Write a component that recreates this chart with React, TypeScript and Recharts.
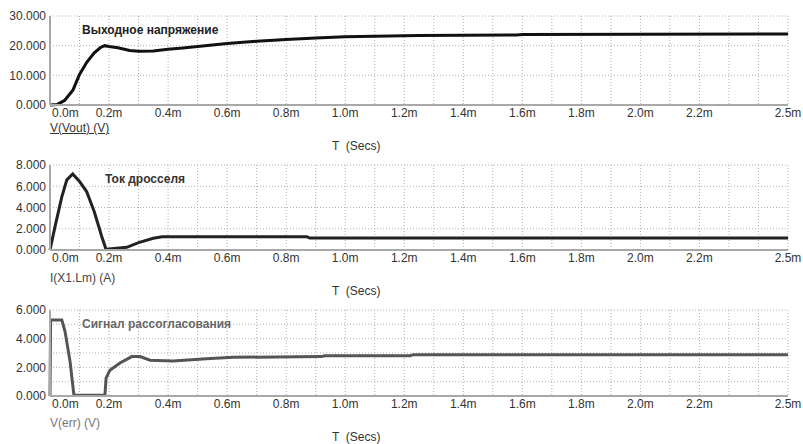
import React from 'react'
import { LineChart, Line, XAxis, YAxis, CartesianGrid } from 'recharts'

// time axis (ms): grid every 0.1m, labels on a subset
const xGridTicks = [0, 0.1, 0.2, 0.3, 0.4, 0.5, 0.6, 0.7, 0.8, 0.9, 1.0, 1.1, 1.2, 1.3, 1.4, 1.5, 1.6, 1.7, 1.8, 1.9, 2.0, 2.1, 2.2, 2.3, 2.4, 2.5]
const xLabelTicks = [0, 0.2, 0.4, 0.6, 0.8, 1.0, 1.2, 1.4, 1.6, 1.8, 2.0, 2.2, 2.5]

// V(Vout)
const voutT = [0, 0.025, 0.05, 0.078, 0.1, 0.125, 0.15, 0.17, 0.185, 0.2, 0.23, 0.27, 0.3, 0.35, 0.4, 0.45, 0.5, 0.6, 0.7, 0.8, 0.9, 1.0, 1.1, 1.25, 1.4, 1.58, 1.6, 2.0, 2.5]
const voutV = [0, 0.2, 1.6, 5.1, 10.3, 14.5, 17.6, 19.3, 20.0, 19.7, 19.3, 18.4, 18.1, 18.2, 18.8, 19.2, 19.7, 20.7, 21.5, 22.1, 22.6, 23.0, 23.2, 23.4, 23.5, 23.6, 23.8, 23.85, 23.9]
const voutGrid = [0, 10, 20, 30]
const voutLabels = [0, 10, 20, 30]

// I(X1.Lm)
const ilmT = [0, 0.017, 0.04, 0.057, 0.077, 0.1, 0.124, 0.15, 0.175, 0.19, 0.2, 0.26, 0.3, 0.35, 0.38, 0.87, 0.88, 2.5]
const ilmV = [0, 2.2, 5.0, 6.6, 7.15, 6.45, 5.5, 3.6, 1.3, 0.05, 0.1, 0.25, 0.7, 1.1, 1.25, 1.25, 1.12, 1.12]
const ilmGrid = [0, 2, 4, 6, 8]
const ilmLabels = [0, 2, 4, 6, 8]

// V(err)
const verrT = [0, 0.002, 0.04, 0.051, 0.068, 0.081, 0.186, 0.19, 0.203, 0.237, 0.277, 0.305, 0.339, 0.417, 0.53, 0.62, 0.92, 0.93, 1.22, 1.23, 2.5]
const verrV = [0, 5.3, 5.3, 4.5, 2.4, 0.05, 0.05, 1.25, 1.8, 2.3, 2.75, 2.75, 2.5, 2.45, 2.6, 2.7, 2.75, 2.8, 2.8, 2.88, 2.88]
const verrGrid = [0, 1, 2, 3, 4, 5, 6]
const verrLabels = [0, 2, 4, 6]

const FONT = '"Liberation Sans", Arial, sans-serif'
const BORDER = { stroke: '#a8a8a8', strokeWidth: 2 }

const XTick = (props: any) => {
  const { x, y, payload } = props
  const show = xLabelTicks.includes(payload.value)
  const first = payload.value === 0
  return (
    <text x={first ? x + 2 : x} y={y + 12} textAnchor={first ? 'start' : 'middle'} fontSize={12} fill="#333">
      {show ? payload.value.toFixed(1) + 'm' : ''}
    </text>
  )
}

type PanelProps = {
  t: number[], v: number[], yGrid: number[], yLabels: number[],
  boxH: number, plotH: number, color: string,
  title: string, titleX: number, titleColor: string,
  signal: string, signalTop: number, signalColor: string, underline?: boolean,
}

function Panel(p: PanelProps){
  const data = p.t.map((t, i) => ({ t, v: p.v[i] }))
  const yMax = p.yGrid[p.yGrid.length - 1]
  const H = 120
  const mTop = 16
  return (
    <div style={{ position: 'relative', width: 803, height: p.boxH }}>
      <LineChart width={803} height={H} data={data} margin={{ top: mTop, right: 15, left: 0, bottom: 0 }}>
        <CartesianGrid stroke="#b0b0b0" strokeDasharray="1 2" />
        <XAxis dataKey="t" type="number" domain={[0, 2.5]} ticks={xGridTicks} interval={0}
          height={H - mTop - p.plotH} tickSize={0} tickMargin={0} tickLine={false} axisLine={BORDER} tick={<XTick />} />
        <XAxis xAxisId="top" orientation="top" type="number" domain={[0, 2.5]} height={0}
          tick={false} tickLine={false} axisLine={BORDER} />
        <YAxis type="number" domain={[0, yMax]} ticks={p.yGrid} interval={0} width={50} tickSize={0} tickMargin={4}
          tickLine={false} axisLine={BORDER} tick={{ fontSize: 12, fill: '#333' }}
          tickFormatter={(v: number) => p.yLabels.includes(v) ? v.toFixed(3) : ''} />
        <YAxis yAxisId="right" orientation="right" type="number" domain={[0, yMax]} width={0}
          tick={false} tickLine={false} axisLine={BORDER} />
        <Line type="linear" dataKey="v" stroke={p.color} strokeWidth={3} dot={false} isAnimationActive={false} />
      </LineChart>
      <div style={{ position: 'absolute', left: p.titleX, top: mTop + 7, fontSize: 12, fontWeight: 'bold', color: p.titleColor, lineHeight: '14px' }}>
        {p.title}
      </div>
      <div style={{ position: 'absolute', left: 50, top: p.signalTop, fontSize: 12, color: p.signalColor, lineHeight: '14px', textDecoration: p.underline ? 'underline' : 'none' }}>
        {p.signal}
      </div>
      <div style={{ position: 'absolute', left: 332, top: mTop + p.plotH + 34, fontSize: 12, color: '#333', lineHeight: '14px', whiteSpace: 'pre' }}>
        {'T  (Secs)'}
      </div>
    </div>
  )
}

export default function App(){
  return (
    <div style={{ position: 'absolute', left: 0, top: 0, width: 803, height: 444, background: '#fff', fontFamily: FONT }}>
      <Panel t={voutT} v={voutV} yGrid={voutGrid} yLabels={voutLabels} boxH={149} plotH={89} color="#111"
        title="Выходное напряжение" titleX={82} titleColor="#222" signal="V(Vout) (V)" signalTop={121} signalColor="#333" underline />
      <Panel t={ilmT} v={ilmV} yGrid={ilmGrid} yLabels={ilmLabels} boxH={145} plotH={85} color="#222"
        title="Ток дросселя" titleX={105} titleColor="#333" signal="I(X1.Lm) (A)" signalTop={122} signalColor="#444" />
      <Panel t={verrT} v={verrV} yGrid={verrGrid} yLabels={verrLabels} boxH={150} plotH={86} color="#555"
        title="Сигнал рассогласования" titleX={82} titleColor="#666" signal="V(err) (V)" signalTop={122} signalColor="#777" />
    </div>
  )
}
